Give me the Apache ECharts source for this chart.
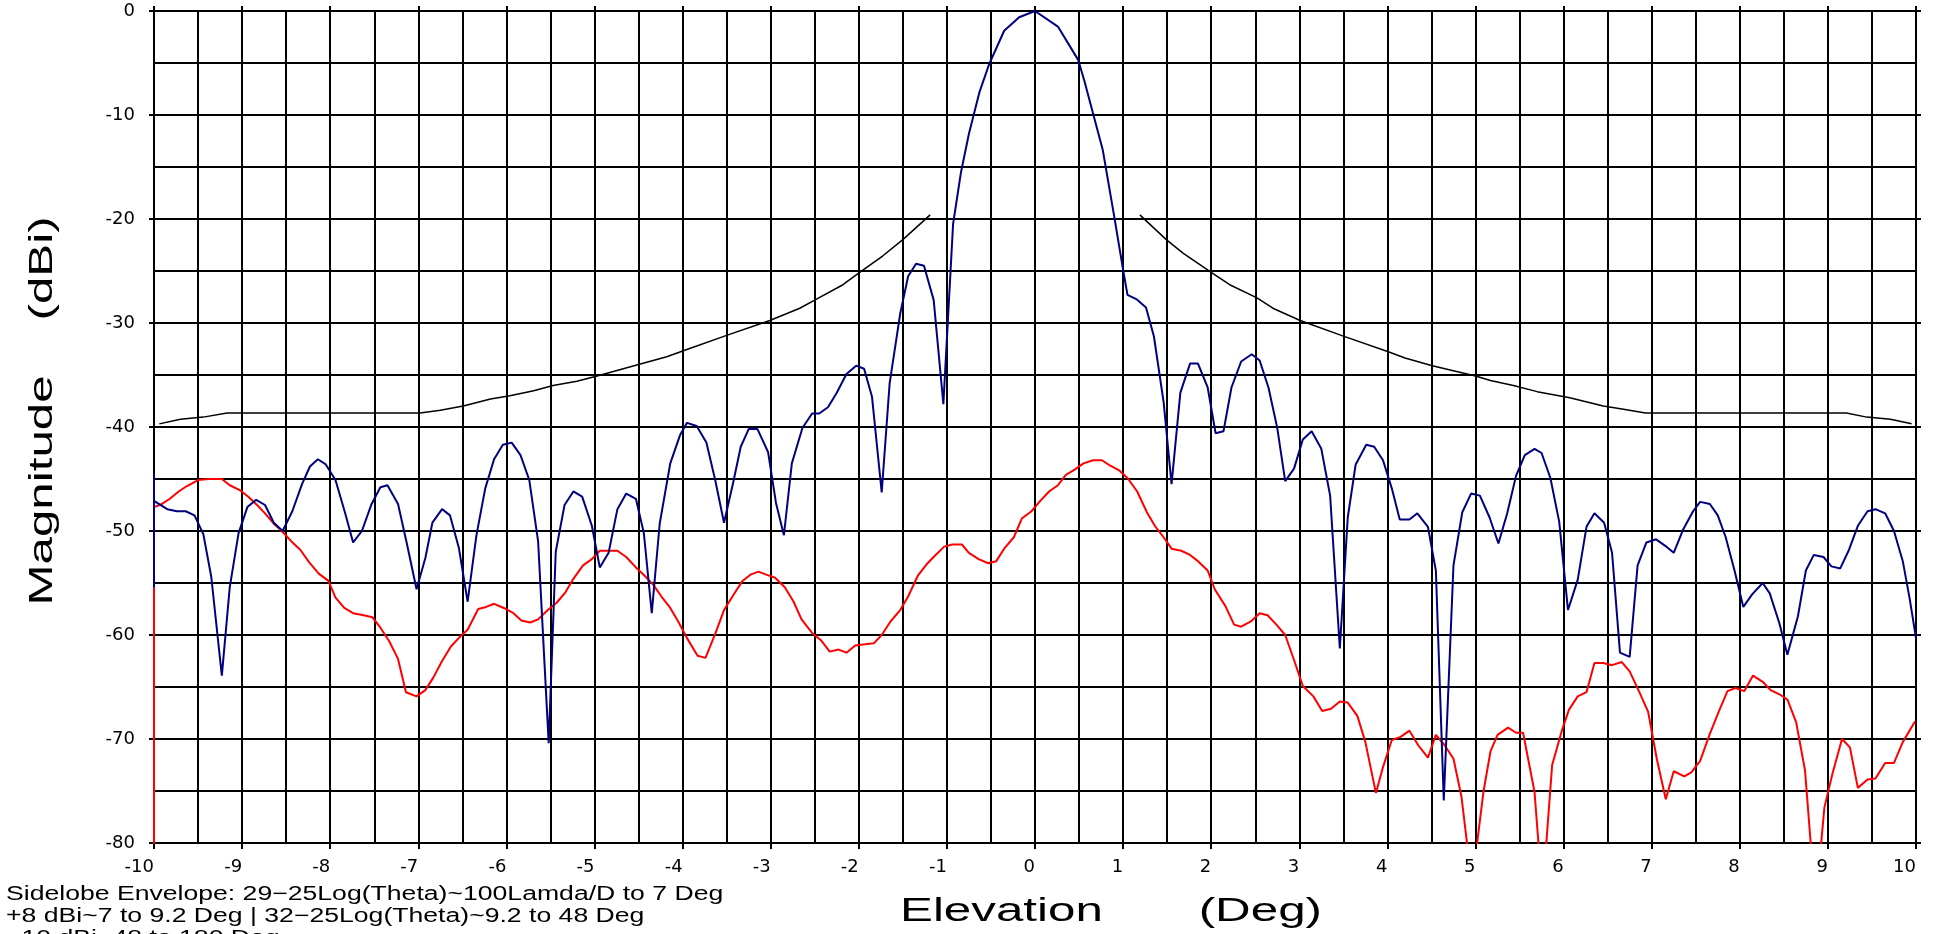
<!DOCTYPE html>
<html>
<head>
<meta charset="utf-8">
<script src="https://cdn.jsdelivr.net/npm/echarts@6/dist/echarts.min.js"></script>
<style>
html,body{margin:0;padding:0;background:#fff;}
#chart{width:1937px;height:934px;}
</style>
</head>
<body>
<div id="chart"></div>
<script>
// ---- data ----
const xAxisTitle = 'Elevation       (Deg)';
const yAxisTitle = 'Magnitude    (dBi)';
const noteLines = [
  'Sidelobe Envelope: 29\u221225Log(Theta)~100Lamda/D to 7 Deg',
  '+8 dBi~7 to 9.2 Deg | 32\u221225Log(Theta)~9.2 to 48 Deg',
  '\u221210 dBi~48 to 180 Deg'
];

// measured pattern (blue)
const blueX = [-10,-10,-10,-9.85,-9.74,-9.64,-9.54,-9.44,-9.35,-9.23,-9.14,-9.04,-8.94,-8.84,-8.74,-8.64,-8.54,-8.43,-8.32,-8.23,-8.14,-8.05,-7.94,-7.83,-7.74,-7.64,-7.53,-7.43,-7.35,-7.23,-7.13,-7.02,-6.92,-6.84,-6.73,-6.64,-6.54,-6.44,-6.34,-6.24,-6.14,-6.04,-5.94,-5.84,-5.74,-5.64,-5.52,-5.44,-5.34,-5.24,-5.14,-5.03,-4.94,-4.84,-4.74,-4.64,-4.53,-4.44,-4.35,-4.26,-4.14,-4.03,-3.95,-3.84,-3.73,-3.63,-3.53,-3.43,-3.34,-3.25,-3.15,-3.03,-2.94,-2.85,-2.76,-2.64,-2.53,-2.45,-2.35,-2.25,-2.14,-2.03,-1.94,-1.85,-1.74,-1.65,-1.53,-1.44,-1.35,-1.26,-1.15,-1.04,-0.93,-0.84,-0.75,-0.63,-0.52,-0.35,-0.18,0,0.26,0.49,0.56,0.77,0.9,1.0,1.05,1.15,1.26,1.35,1.46,1.55,1.65,1.76,1.85,1.96,2.05,2.14,2.23,2.34,2.46,2.55,2.65,2.75,2.84,2.94,3.04,3.14,3.25,3.35,3.46,3.55,3.64,3.76,3.85,3.95,4.05,4.14,4.25,4.34,4.46,4.55,4.64,4.75,4.85,4.95,5.05,5.16,5.26,5.36,5.46,5.56,5.67,5.75,5.85,5.95,6.05,6.16,6.26,6.35,6.46,6.55,6.64,6.75,6.84,6.94,7.05,7.15,7.25,7.36,7.47,7.55,7.66,7.75,7.84,7.94,8.04,8.14,8.26,8.34,8.45,8.54,8.66,8.75,8.84,8.95,9.04,9.14,9.24,9.34,9.45,9.54,9.65,9.75,9.85,9.93,10.0];
const blueY = [-44.5,-55.4,-47.1,-47.9,-48.1,-48.1,-48.5,-50.3,-54.4,-63.9,-55.4,-50.2,-47.7,-47.0,-47.5,-49.2,-50.0,-48.1,-45.5,-43.8,-43.1,-43.6,-45.1,-48.3,-51.1,-50.0,-47.4,-45.8,-45.6,-47.4,-51.2,-55.6,-52.6,-49.2,-47.9,-48.5,-51.6,-56.8,-50.4,-45.9,-43.1,-41.7,-41.5,-42.7,-45.1,-51.0,-70.4,-52.0,-47.5,-46.2,-46.7,-49.5,-53.5,-52.1,-47.9,-46.4,-46.9,-50.2,-57.9,-49.3,-43.5,-40.8,-39.6,-39.9,-41.5,-45.1,-49.2,-45.5,-41.9,-40.2,-40.2,-42.4,-47.3,-50.4,-43.5,-40.1,-38.7,-38.7,-38.1,-36.7,-34.9,-34.1,-34.4,-37.1,-46.3,-35.8,-29.1,-25.5,-24.3,-24.5,-27.8,-37.8,-20.5,-15.5,-11.8,-7.8,-5.1,-1.9,-0.6,0,-1.5,-4.7,-6.7,-13.4,-19.8,-24.9,-27.3,-27.7,-28.5,-31.3,-37.6,-45.5,-36.7,-33.9,-33.9,-36.2,-40.6,-40.4,-36.2,-33.7,-33.0,-33.6,-36.2,-40.1,-45.2,-44.0,-41.2,-40.4,-42.1,-46.6,-61.3,-48.7,-43.6,-41.7,-41.9,-43.2,-45.9,-48.9,-48.9,-48.3,-49.6,-53.8,-75.9,-53.3,-48.2,-46.4,-46.6,-48.7,-51.2,-48.3,-44.7,-42.7,-42.1,-42.5,-44.9,-49.1,-57.6,-54.7,-49.6,-48.3,-49.2,-52.1,-61.7,-62.1,-53.3,-51.1,-50.8,-51.4,-52.1,-49.8,-48.1,-47.2,-47.4,-48.5,-50.6,-53.8,-57.3,-56.1,-55.0,-56.0,-58.9,-61.9,-58.2,-53.8,-52.3,-52.5,-53.4,-53.6,-51.8,-49.5,-48.1,-47.9,-48.3,-50.0,-52.9,-56.6,-60.3];

// second pattern (red)
const redX = [-10,-10,-9.91,-9.82,-9.72,-9.63,-9.5,-9.38,-9.23,-9.14,-9.02,-8.93,-8.83,-8.74,-8.64,-8.55,-8.44,-8.34,-8.24,-8.13,-8.02,-7.94,-7.84,-7.74,-7.62,-7.52,-7.43,-7.33,-7.23,-7.14,-7.02,-6.92,-6.83,-6.73,-6.63,-6.53,-6.44,-6.32,-6.23,-6.14,-6.03,-5.92,-5.83,-5.73,-5.64,-5.53,-5.43,-5.33,-5.24,-5.13,-5.03,-4.94,-4.84,-4.74,-4.64,-4.53,-4.43,-4.33,-4.24,-4.14,-4.05,-3.95,-3.83,-3.74,-3.63,-3.53,-3.42,-3.32,-3.23,-3.14,-3.05,-2.95,-2.84,-2.74,-2.65,-2.53,-2.43,-2.33,-2.23,-2.14,-2.04,-1.93,-1.83,-1.74,-1.64,-1.53,-1.44,-1.33,-1.23,-1.14,-1.03,-0.94,-0.83,-0.75,-0.64,-0.53,-0.44,-0.35,-0.24,-0.15,-0.04,0.06,0.16,0.26,0.35,0.45,0.55,0.66,0.76,0.85,0.96,1.05,1.16,1.27,1.36,1.46,1.55,1.66,1.76,1.85,1.96,2.04,2.16,2.26,2.34,2.45,2.55,2.64,2.74,2.84,2.94,3.04,3.16,3.26,3.36,3.46,3.55,3.66,3.75,3.87,3.95,4.05,4.15,4.25,4.35,4.46,4.55,4.65,4.75,4.84,4.96,5.09,5.17,5.25,5.37,5.46,5.54,5.67,5.76,5.87,5.98,6.06,6.16,6.26,6.35,6.45,6.55,6.66,6.75,6.86,6.96,7.06,7.16,7.25,7.37,7.45,7.55,7.66,7.76,7.86,7.95,8.05,8.15,8.26,8.35,8.45,8.54,8.64,8.74,8.86,8.96,9.05,9.16,9.25,9.34,9.45,9.54,9.65,9.75,9.85,9.99];
const redY = [-85,-47.7,-47.4,-46.9,-46.2,-45.7,-45.1,-45.0,-45.0,-45.6,-46.1,-46.7,-47.5,-48.3,-49.3,-50.0,-51.0,-51.8,-53.0,-54.1,-54.8,-56.4,-57.4,-57.9,-58.1,-58.3,-59.3,-60.6,-62.3,-65.5,-65.9,-65.3,-64.1,-62.5,-61.1,-60.2,-59.5,-57.5,-57.3,-57.0,-57.4,-57.9,-58.6,-58.8,-58.5,-57.6,-56.9,-55.9,-54.6,-53.3,-52.7,-51.9,-51.9,-51.9,-52.5,-53.5,-54.3,-55.2,-56.3,-57.4,-58.7,-60.3,-62.0,-62.2,-59.9,-57.6,-56.1,-54.8,-54.2,-53.9,-54.2,-54.5,-55.4,-56.8,-58.5,-59.8,-60.5,-61.6,-61.4,-61.7,-61.0,-60.9,-60.8,-60.0,-58.7,-57.6,-56.3,-54.3,-53.2,-52.4,-51.5,-51.3,-51.3,-52.1,-52.7,-53.1,-52.9,-51.7,-50.6,-48.8,-48.1,-47.1,-46.2,-45.6,-44.6,-44.1,-43.5,-43.2,-43.2,-43.7,-44.2,-44.9,-46.2,-48.2,-49.5,-50.6,-51.7,-51.9,-52.3,-52.9,-53.8,-55.6,-57.2,-59.0,-59.2,-58.7,-57.9,-58.1,-59.0,-60.0,-62.4,-64.9,-65.9,-67.3,-67.1,-66.4,-66.5,-67.8,-70.3,-75.2,-72.7,-70.1,-69.8,-69.2,-70.6,-71.8,-69.6,-70.6,-71.9,-75.5,-84,-75.1,-71.2,-69.6,-68.9,-69.4,-69.4,-75.1,-85,-72.5,-69.2,-67.2,-65.9,-65.5,-62.7,-62.7,-62.9,-62.6,-63.5,-65.5,-67.4,-72.0,-75.8,-73.1,-73.6,-73.2,-72.1,-69.5,-67.4,-65.4,-65.1,-65.4,-63.9,-64.5,-65.3,-65.7,-66.2,-68.4,-73.0,-86,-76.6,-73.4,-70.0,-70.8,-74.7,-73.9,-73.8,-72.3,-72.3,-70.3,-68.3];

// sidelobe envelope (black), left and right branches
const envLeftX = [-9.94,-9.7,-9.44,-9.17,-6.98,-6.75,-6.49,-6.18,-5.96,-5.69,-5.47,-5.2,-4.97,-4.52,-4.18,-3.92,-3.5,-3.01,-2.67,-2.48,-2.18,-1.99,-1.73,-1.5,-1.19];
const envLeftY = [-39.7,-39.25,-39.05,-38.66,-38.66,-38.38,-37.98,-37.31,-37.0,-36.52,-36.01,-35.61,-35.1,-34.03,-33.24,-32.45,-31.19,-29.76,-28.58,-27.71,-26.32,-25.14,-23.56,-21.98,-19.6];
const envRightX = [1.19,1.49,1.68,2.0,2.21,2.52,2.7,3.01,3.5,4.01,4.2,4.51,5.0,5.17,5.43,5.7,6.07,6.45,6.68,6.93,9.21,9.44,9.71,9.95];
const envRightY = [-19.6,-21.98,-23.28,-25.14,-26.32,-27.59,-28.58,-29.76,-31.26,-32.77,-33.36,-34.11,-35.1,-35.53,-36.01,-36.6,-37.19,-37.98,-38.3,-38.66,-38.66,-39.05,-39.25,-39.68];

// ---- build ----
const pair = (xs, ys) => xs.map((x, i) => [x, ys[i]]);
const FONT = '"Liberation Sans", Arial, sans-serif';
const TICKFONT = '"DejaVu Sans", "Liberation Sans", sans-serif';
const gridLine = { show: true, lineStyle: { color: '#000', width: 2 } };

const chart = echarts.init(document.getElementById('chart'), null, { renderer: 'canvas' });

const axisCommon = {
  type: 'value',
  axisLine: { show: true, onZero: false, lineStyle: { color: '#000', width: 2 } },
  axisTick: { show: true, inside: false, length: 6, lineStyle: { color: '#000', width: 2 } },
  minorTick: { show: false, splitNumber: 2 },
  splitLine: gridLine,
  minorSplitLine: gridLine
};

chart.setOption({
  animation: false,
  backgroundColor: '#fff',
  grid: { left: 154, right: 21, top: 11, bottom: 91, containLabel: false },
  xAxis: [
    Object.assign({}, axisCommon, {
      position: 'bottom', min: -10, max: 10, interval: 1,
      axisLabel: { show: true, margin: 15, align: 'right', color: '#000', fontSize: 18, fontFamily: TICKFONT }
    }),
    Object.assign({}, axisCommon, {
      position: 'top', min: -10, max: 10, interval: 1,
      axisTick: { show: true, inside: false, length: 5, lineStyle: { color: '#000', width: 2 } },
      axisLabel: { show: false }, splitLine: { show: false }, minorSplitLine: { show: false }
    })
  ],
  yAxis: [
    Object.assign({}, axisCommon, {
      position: 'left', min: -80, max: 0, interval: 10,
      axisTick: { show: true, inside: false, length: 5, lineStyle: { color: '#000', width: 2 } },
      axisLabel: { show: true, margin: 19, color: '#000', fontSize: 18, fontFamily: TICKFONT }
    }),
    Object.assign({}, axisCommon, {
      position: 'right', min: -80, max: 0, interval: 10,
      axisTick: { show: true, inside: false, length: 5, lineStyle: { color: '#000', width: 2 } },
      axisLabel: { show: false }, splitLine: { show: false }, minorSplitLine: { show: false }
    })
  ],
  series: [
    { type: 'line', name: 'red', data: pair(redX, redY), showSymbol: false, symbol: 'none', clip: true,
      lineStyle: { color: '#ff0000', width: 2 }, z: 3 },
    { type: 'line', name: 'blue', data: pair(blueX, blueY), showSymbol: false, symbol: 'none', clip: true,
      lineStyle: { color: '#000080', width: 2 }, z: 4 },
    { type: 'line', name: 'envelopeL', data: pair(envLeftX, envLeftY), showSymbol: false, symbol: 'none', clip: true,
      lineStyle: { color: '#000', width: 1.5 }, z: 5 },
    { type: 'line', name: 'envelopeR', data: pair(envRightX, envRightY), showSymbol: false, symbol: 'none', clip: true,
      lineStyle: { color: '#000', width: 1.5 }, z: 5 }
  ],
  graphic: [
    { type: 'text', x: 1111, y: 912, scaleX: 1.45, silent: true,
      style: { text: xAxisTitle, font: '34px ' + FONT, fill: '#000', textAlign: 'center', textVerticalAlign: 'middle' } },
    { type: 'text', x: 43, y: 411, rotation: Math.PI / 2, scaleX: 1.45, silent: true,
      style: { text: yAxisTitle, font: '34px ' + FONT, fill: '#000', textAlign: 'center', textVerticalAlign: 'middle' } },
    { type: 'text', x: 6, y: 894, scaleX: 1.33, silent: true,
      style: { text: noteLines[0], font: '20px ' + FONT, fill: '#000', textAlign: 'left', textVerticalAlign: 'middle' } },
    { type: 'text', x: 6, y: 916, scaleX: 1.33, silent: true,
      style: { text: noteLines[1], font: '20px ' + FONT, fill: '#000', textAlign: 'left', textVerticalAlign: 'middle' } },
    { type: 'text', x: 6, y: 938, scaleX: 1.33, silent: true,
      style: { text: noteLines[2], font: '20px ' + FONT, fill: '#000', textAlign: 'left', textVerticalAlign: 'middle' } }
  ]
});
</script>
</body>
</html>
